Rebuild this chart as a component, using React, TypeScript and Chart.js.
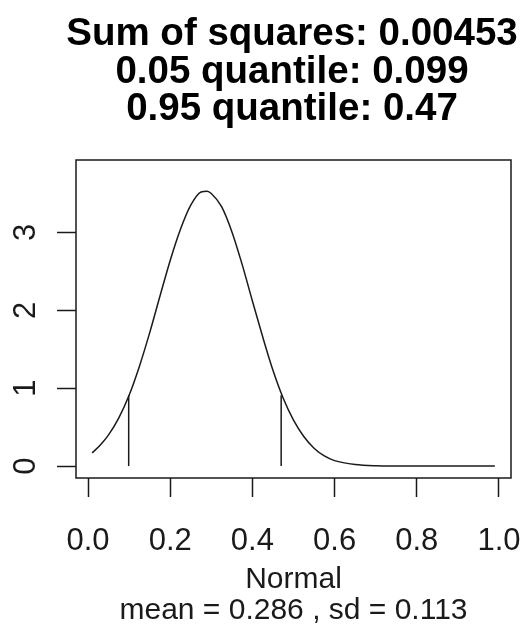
import React, { useEffect, useRef } from "react";
import { Chart, registerables } from "chart.js";

Chart.register(...registerables);

const TITLE_LINES = ["Sum of squares: 0.00453", "0.05 quantile: 0.099", "0.95 quantile: 0.47"];
const X_LABEL = "Normal";
const SUB_LABEL = "mean = 0.286 , sd = 0.113";
const X_TICKS = [0, 0.2, 0.4, 0.6, 0.8, 1.0];
const X_TICK_LABELS = ["0.0", "0.2", "0.4", "0.6", "0.8", "1.0"];
const Y_TICKS = [0, 1, 2, 3];
const Y_TICK_LABELS = ["0", "1", "2", "3"];

const CURVE_X = [0.01, 0.03, 0.05, 0.075, 0.1, 0.125, 0.15, 0.175, 0.2, 0.225, 0.25, 0.275, 0.29, 0.3, 0.325, 0.35, 0.375, 0.4, 0.425, 0.45, 0.475, 0.5, 0.525, 0.55, 0.575, 0.6, 0.65, 0.7, 0.8, 0.9, 0.99];
const CURVE_Y = [0.17, 0.27, 0.4, 0.62, 0.91, 1.28, 1.71, 2.18, 2.64, 3.04, 3.35, 3.52, 3.53, 3.5, 3.33, 3.01, 2.59, 2.12, 1.66, 1.23, 0.87, 0.59, 0.38, 0.23, 0.13, 0.07, 0.02, 0.005, 0.0, 0.0, 0.0];

const QUANTILE_X = [0.099, 0.47];
const QUANTILE_Y = [0.91, 0.91];

const FONT = '"Liberation Sans", Arial, Helvetica, sans-serif';
const INK = "#1a1a1a";

const framePlugin = {
  id: "rFrame",
  afterDraw(chart: any) {
    const { ctx, chartArea: a, scales } = chart;
    ctx.save();
    ctx.strokeStyle = INK;
    ctx.lineWidth = 1.5;
    ctx.strokeRect(a.left, a.top, a.right - a.left, a.bottom - a.top);
    // rotated y tick labels (R style)
    ctx.fillStyle = INK;
    ctx.font = `31px ${FONT}`;
    ctx.textAlign = "center";
    ctx.textBaseline = "alphabetic";
    Y_TICKS.forEach((v, i) => {
      const y = scales.y.getPixelForValue(v);
      ctx.save();
      ctx.translate(a.left - 41, y);
      ctx.rotate(-Math.PI / 2);
      ctx.fillText(Y_TICK_LABELS[i], 0, 0);
      ctx.restore();
    });
    // main title, centred over the plot region
    ctx.fillStyle = "#000";
    ctx.font = `bold 38.5px ${FONT}`;
    const cx = (a.left + a.right) / 2 - 1.5;
    TITLE_LINES.forEach((line, i) => {
      ctx.fillText(line, cx, a.top - 115 + i * 37.5);
    });
    ctx.restore();
  },
};

export default function App() {
  const ref = useRef<HTMLCanvasElement | null>(null);

  useEffect(() => {
    if (!ref.current) return;
    Chart.defaults.font.family = FONT;
    const curve = CURVE_X.map((x, i) => ({ x, y: CURVE_Y[i] }));
    const quantileSets = QUANTILE_X.map((qx, i) => ({
      label: "q" + i,
      data: [
        { x: qx, y: 0 },
        { x: qx, y: QUANTILE_Y[i] },
      ],
      borderColor: INK,
      borderWidth: 1.5,
      pointRadius: 0,
      fill: false,
    }));
    const chart = new Chart(ref.current, {
      type: "line",
      data: {
        datasets: [
          {
            label: "density",
            data: curve,
            borderColor: INK,
            borderWidth: 1.5,
            pointRadius: 0,
            fill: false,
            cubicInterpolationMode: "monotone",
          } as any,
          ...quantileSets,
        ],
      },
      options: {
        responsive: false,
        animation: false,
        events: [],
        layout: { padding: { top: 160, right: 9, bottom: 0, left: 0 }, autoPadding: false } as any,
        plugins: {
          legend: { display: false },
          tooltip: { enabled: false },
          title: { display: false },
        },
        scales: {
          x: {
            type: "linear",
            min: -0.0292,
            max: 1.0292,
            afterBuildTicks: (s: any) => {
              s.ticks = X_TICKS.map((v) => ({ value: v }));
            },
            afterFit: (s: any) => {
              s.height = 152;
              s.paddingLeft = 0;
              s.paddingRight = 0;
            },
            ticks: {
              callback: (_v: any, i: number) => X_TICK_LABELS[i],
              font: { size: 31 },
              color: INK,
              padding: 25.7,
              maxRotation: 0,
              minRotation: 0,
              autoSkip: false,
            },
            grid: {
              drawOnChartArea: false,
              drawTicks: true,
              tickLength: 19,
              tickWidth: 1.5,
              tickColor: INK,
            },
            border: { display: false },
            title: {
              display: true,
              text: [X_LABEL, SUB_LABEL],
              color: INK,
              font: { size: 30, lineHeight: "31px" } as any,
              padding: { top: 0, bottom: 4 },
            },
          },
          y: {
            type: "linear",
            min: -0.153,
            max: 3.93,
            afterBuildTicks: (s: any) => {
              s.ticks = Y_TICKS.map((v) => ({ value: v }));
            },
            afterFit: (s: any) => {
              s.width = 76;
              s.paddingTop = 0;
              s.paddingBottom = 0;
            },
            ticks: { display: false },
            grid: {
              drawOnChartArea: false,
              drawTicks: true,
              tickLength: 19,
              tickWidth: 1.5,
              tickColor: INK,
            },
            border: { display: false },
          },
        },
      } as any,
      plugins: [framePlugin],
    });
    return () => chart.destroy();
  }, []);

  return (
    <div style={{ position: "absolute", left: 0, top: 0, width: 520, height: 630, background: "#fff" }}>
      <canvas ref={ref} width={520} height={630} style={{ display: "block" }} />
    </div>
  );
}
